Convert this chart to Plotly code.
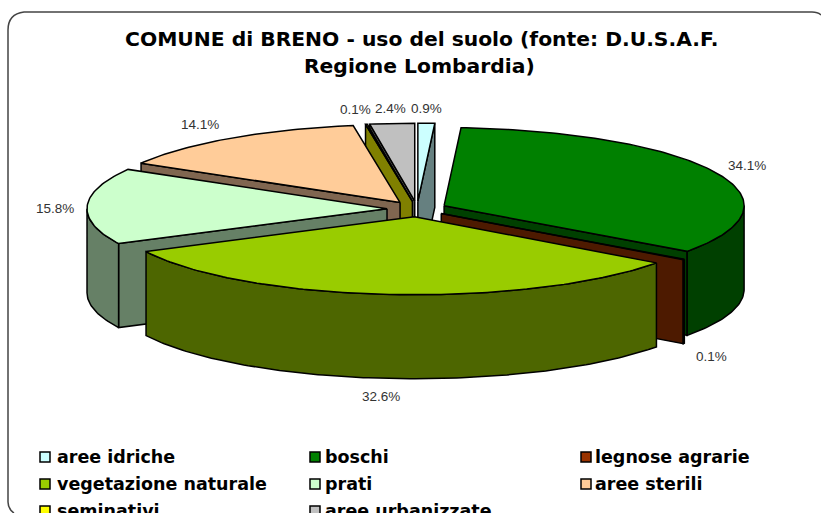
import numpy as np
import plotly.graph_objects as go

# --- data ---
categories = ["aree idriche", "boschi", "legnose agrarie", "vegetazione naturale",
              "prati", "aree sterili", "seminativi", "aree urbanizzate"]
values = [0.9, 34.1, 0.1, 32.6, 15.8, 14.1, 0.1, 2.4]
top_colors = ["#CCFFFF", "#008000", "#993300", "#99CC00",
              "#CCFFCC", "#FFCC99", "#FFFF00", "#C0C0C0"]
side_colors = ["#668080", "#004000", "#4D1A00", "#4D6600",
               "#668066", "#806650", "#808000", "#606060"]
title_lines = ["COMUNE di BRENO - uso del suolo (fonte: D.U.S.A.F.", "Regione Lombardia)"]

# --- geometry of the drawn pie (pixel axes) ---
CX, CY, RX, RY, DEPTH, EXPLODE = 417, 209, 300, 78, 84, 30
DRAW_ORDER = [0, 7, 6, 5, 1, 4, 2, 3]
TITLE_POS = [(422, 39), (419, 66)]
LABEL_POS = [(426, 108), (747, 165), (711, 356), (381, 396),
             (55, 208), (200, 124), (355, 109), (390, 108)]
LEGEND_COLS = [(45, 55), (315, 323), (586, 593)]
LEGEND_ROWS = [457, 484, 511]

fracs = np.array(values) / sum(values)
edges = np.concatenate([[0], np.cumsum(fracs)]) * 360.0


def pt(ax, ay, deg, r=1.0):
    t = np.radians(deg)
    return ax + RX * r * np.sin(t), ay - RY * r * np.cos(t)


fig = go.Figure()


def poly(xs, ys, color):
    fig.add_trace(go.Scatter(x=list(xs) + [xs[0]], y=list(ys) + [ys[0]], mode="lines",
                             fill="toself", fillcolor=color,
                             line=dict(color="#000000", width=1.5),
                             hoverinfo="skip", showlegend=False))


for i in DRAW_ORDER:
    a0, a1 = edges[i], edges[i + 1]
    mid = np.radians((a0 + a1) / 2)
    ax = CX + EXPLODE * np.sin(mid)
    ay = CY - EXPLODE * (RY / RX) * np.cos(mid)
    # radial walls facing the viewer
    if np.sin(np.radians(a0)) < 0:
        ex, ey = pt(ax, ay, a0)
        poly([ax, ex, ex, ax], [ay, ey, ey + DEPTH, ay + DEPTH], side_colors[i])
    if np.sin(np.radians(a1)) > 0:
        ex, ey = pt(ax, ay, a1)
        poly([ax, ex, ex, ax], [ay, ey, ey + DEPTH, ay + DEPTH], side_colors[i])
    # outer curved wall (front half only)
    w0, w1 = max(a0, 90), min(a1, 270)
    if w1 > w0:
        th = np.linspace(w0, w1, max(2, int(w1 - w0) + 2))
        px, py = pt(ax, ay, th)
        poly(np.r_[px, px[::-1]], np.r_[py, py[::-1] + DEPTH], side_colors[i])
    # top face
    th = np.linspace(a0, a1, max(2, int(a1 - a0) + 2))
    px, py = pt(ax, ay, th)
    poly(np.r_[ax, px], np.r_[ay, py], top_colors[i])

annotations = []
for line, (tx, ty) in zip(title_lines, TITLE_POS):
    annotations.append(dict(x=tx, y=ty, xref="x", yref="y", text=f"<b>{line}</b>", showarrow=False,
                            font=dict(family="DejaVu Sans", size=20.3, color="#000000")))
for v, (lx, ly) in zip(values, LABEL_POS):
    annotations.append(dict(x=lx, y=ly, xref="x", yref="y", text=f"{v:.1f}%", showarrow=False,
                            font=dict(family="Liberation Sans", size=13.5, color="#333333")))

# legend, laid out in three columns
for k, name in enumerate(categories):
    row, col = k // 3, k % 3
    mx, tx = LEGEND_COLS[col]
    fig.add_trace(go.Scatter(x=[mx], y=[LEGEND_ROWS[row]], mode="markers",
                             marker=dict(symbol="square", size=10, color=top_colors[k],
                                         line=dict(color="#000000", width=1.5)),
                             hoverinfo="skip", showlegend=False, cliponaxis=False))
    annotations.append(dict(x=tx, y=LEGEND_ROWS[row], xref="x", yref="y", text=f"<b>{name}</b>",
                            showarrow=False, xanchor="left",
                            font=dict(family="DejaVu Sans", size=17.5, color="#000000")))

border = ("M 8,30 Q 8,14 24,12 L 812,12 Q 818,12 821,15 "
          "M 8,30 L 8,502 Q 8,509 14,513")
fig.update_layout(
    width=821, height=513, margin=dict(l=0, r=0, t=0, b=0),
    paper_bgcolor="#FFFFFF", plot_bgcolor="#FFFFFF", showlegend=False,
    xaxis=dict(range=[0, 821], visible=False, fixedrange=True),
    yaxis=dict(range=[513, 0], visible=False, fixedrange=True),
    annotations=annotations,
    shapes=[dict(type="path", path=border, xref="x", yref="y",
                 line=dict(color="#444444", width=1.5))],
)
fig.write_html("out.html", config=dict(displayModeBar=False),
               post_script="document.body.style.margin='0';document.body.style.overflow='hidden';")
